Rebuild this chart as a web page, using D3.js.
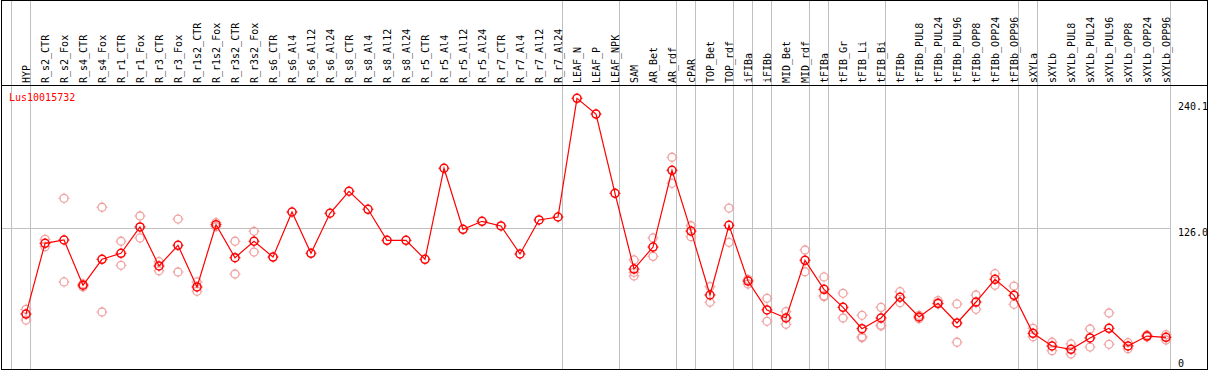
<!DOCTYPE html>
<html>
<head>
<meta charset="utf-8">
<script src="https://cdn.jsdelivr.net/npm/d3@7"></script>
<style>
  body { margin: 0; background: #fff; }
  svg { display: block; }
  text { font-family: "DejaVu Sans Mono", monospace; font-size: 10px; }
</style>
</head>
<body>
<svg id="chart"></svg>
<script>
const geneName = "Lus10015732";

const samples = [
    "HYP", "R_s2_CTR", "R_s2_Fox", "R_s4_CTR", "R_s4_Fox", "R_r1_CTR", "R_r1_Fox",
    "R_r3_CTR", "R_r3_Fox", "R_r1s2_CTR", "R_r1s2_Fox", "R_r3s2_CTR", "R_r3s2_Fox",
    "R_s6_CTR", "R_s6_Al4", "R_s6_Al12", "R_s6_Al24", "R_s8_CTR", "R_s8_Al4",
    "R_s8_Al12", "R_s8_Al24", "R_r5_CTR", "R_r5_Al4", "R_r5_Al12", "R_r5_Al24",
    "R_r7_CTR", "R_r7_Al4", "R_r7_Al12", "R_r7_Al24", "LEAF_N", "LEAF_P", "LEAF_NPK",
    "SAM", "AR_Bet", "AR_rdf", "cPAR", "TOP_Bet", "TOP_rdf", "iFIBa", "iFIBb",
    "MID_Bet", "MID_rdf", "tFIBa", "tFIB_Gr", "tFIB_Li", "tFIB_Bi", "tFIBb",
    "tFIBb_PUL8", "tFIBb_PUL24", "tFIBb_PUL96", "tFIBb_OPP8", "tFIBb_OPP24", "tFIBb_OPP96",
    "sXYLa", "sXYLb", "sXYLb_PUL8", "sXYLb_PUL24", "sXYLb_PUL96", "sXYLb_OPP8",
    "sXYLb_OPP24", "sXYLb_OPP96"
];

// mean expression per sample
const means = [
    49.8, 112.2, 115.1, 75.2, 98.1, 103.4, 126.6,
    92.2, 110.4, 73.7, 128.6, 99.5, 114.0,
    100.1, 139.8, 103.4, 138.7, 158.1, 142.2,
    114.8, 114.8, 98.1, 178.4, 124.5, 131.6,
    127.5, 102.8, 132.8, 135.4, 240.1, 226.2, 156.3,
    89.5, 108.9, 176.6, 123.0, 66.6, 128.1, 78.9, 53.4,
    46.3, 97.2, 71.6, 55.7, 36.9, 46.3, 64.6,
    47.2, 59.3, 41.9, 60.4, 80.4, 66.3,
    32.8, 21.6, 18.7, 28.7, 37.2, 21.6,
    30.4, 29.3
];

// individual replicates (empty where only one value was shown)
const replicates = [
    [54.0, 44.5], [115.7, 109.2], [151.9, 78.1], [76.3, 73.7], [144.0, 51.6], [114.0, 92.8], [136.3, 116.9],
    [96.0, 88.0], [133.6, 86.9], [78.1, 69.9], [130.4, 126.8], [114.0, 85.1], [122.8, 104.5],
    [], [], [], [], [], [],
    [], [], [], [], [], [],
    [], [], [], [], [], [], [],
    [97.5, 83.4, 86.6], [116.9, 100.7], [188.1, 165.1], [127.7, 118.0], [73.9, 60.2], [143.3, 113.1], [80.4, 76.3], [63.7, 43.4],
    [51.9, 40.8], [106.3, 87.1], [82.5, 66.0, 65.1], [68.1, 46.3], [48.7, 29.8, 28.9], [55.7, 40.1, 39.3], [69.5, 59.8],
    [45.7, 48.7], [61.6, 58.7], [58.7, 24.9], [66.6, 54.0], [85.4, 75.2], [74.5, 58.4],
    [37.2, 29.8], [24.9, 17.5], [23.4, 14.6], [36.6, 20.7], [50.7, 23.1], [24.5, 19.2],
    [31.3, 29.5], [31.6, 26.9]
];

// index of the last sample in each tissue group
const groupEnds = [0, 28, 31, 34, 35, 37, 38, 39, 41, 42, 45, 52, 53, 60];

const tickValues = [0, 126.0, 240.1];
const tickLabels = ["0", "126.0", "240.1"];

const width = 1209,
    height = 370,
    headerBottom = 85.5;

const svg = d3.select('#chart')
    .attr('width', width)
    .attr('height', height);

const x = d3.scalePoint()
    .domain(samples)
    .range([26, 26 + 19 * (samples.length - 1)]);

const y = d3.scaleLinear()
    .domain([0, 240.1])
    .range([370.5, 98.3]);

const step = x.step();

// group separators
svg.append('g')
    .attr('stroke', '#c0c0c0')
    .attr('shape-rendering', 'crispEdges')
    .selectAll('line')
    .data([-1].concat(groupEnds))
    .join('line')
    .attr('x1', (d) => (d < 0 ? x(samples[0]) - step : x(samples[d])) + 4.5)
    .attr('x2', (d) => (d < 0 ? x(samples[0]) - step : x(samples[d])) + 4.5)
    .attr('y1', 0)
    .attr('y2', height);

// horizontal grid at the middle tick
svg.append('g')
    .attr('stroke', '#c0c0c0')
    .attr('shape-rendering', 'crispEdges')
    .selectAll('line')
    .data(tickValues.filter((d) => d > 0 && d < 240))
    .join('line')
    .attr('x1', 1)
    .attr('x2', x(samples[samples.length - 1]) + 4.5)
    .attr('y1', (d) => Math.round(y(d)) + 0.5)
    .attr('y2', (d) => Math.round(y(d)) + 0.5);

// frame
svg.append('g')
    .attr('stroke', '#000')
    .attr('stroke-width', 1)
    .attr('fill', 'none')
    .attr('shape-rendering', 'crispEdges')
    .call((g) => {
        g.append('rect').attr('x', 1.5).attr('y', 0.5).attr('width', 1206).attr('height', 368.5);
        g.append('line').attr('x1', 1).attr('x2', 1207).attr('y1', headerBottom).attr('y2', headerBottom);
    });

// sample names in the header
svg.append('g')
    .selectAll('text')
    .data(samples)
    .join('text')
    .attr('transform', (d) => `translate(${x(d) + 4},83) rotate(-90)`)
    .attr('fill', '#000')
    .text((d) => d);

// right side value labels
svg.append('g')
    .selectAll('text')
    .data(tickValues)
    .join('text')
    .attr('x', 1178)
    .attr('y', (d) => Math.min(Math.max(y(d) + 8.6, 110), 366.5))
    .attr('fill', '#000')
    .text((d, i) => tickLabels[i]);

// re-draw right border on top of the clipped label
svg.append('line')
    .attr('x1', 1207.5).attr('x2', 1207.5).attr('y1', 0).attr('y2', 369)
    .attr('stroke', '#000').attr('stroke-width', 1)
    .attr('shape-rendering', 'crispEdges');

// gene title
svg.append('text')
    .attr('x', 9)
    .attr('y', 100.5)
    .attr('fill', '#ff0000')
    .text(geneName);

function marker(sel, colour, sw) {
    sel.append('circle')
        .attr('r', 4)
        .attr('fill', 'none')
        .attr('stroke', colour)
        .attr('stroke-width', sw);
    sel.append('path')
        .attr('d', 'M0,-4V-5.5M0,4V5.5M-4,0H-5.5M4,0H5.5')
        .attr('stroke', colour)
        .attr('stroke-width', 1);
}

// replicate points
let reps = [];
replicates.forEach((r, i) => r.forEach((v) => reps.push({name: samples[i], value: v})));

svg.append('g')
    .selectAll('g')
    .data(reps)
    .join('g')
    .attr('transform', (d) => `translate(${x(d.name)},${y(d.value)})`)
    .call(marker, '#f0a0a0', 1.3);

// mean line
const line = d3.line()
    .x((d, i) => x(samples[i]))
    .y((d) => y(d));

svg.append('path')
    .datum(means)
    .attr('fill', 'none')
    .attr('stroke', '#ff0000')
    .attr('stroke-width', 1.2)
    .attr('d', line);

svg.append('g')
    .selectAll('g')
    .data(means)
    .join('g')
    .attr('transform', (d, i) => `translate(${x(samples[i])},${y(d)})`)
    .call(marker, '#ff0000', 1.5);
</script>
</body>
</html>
